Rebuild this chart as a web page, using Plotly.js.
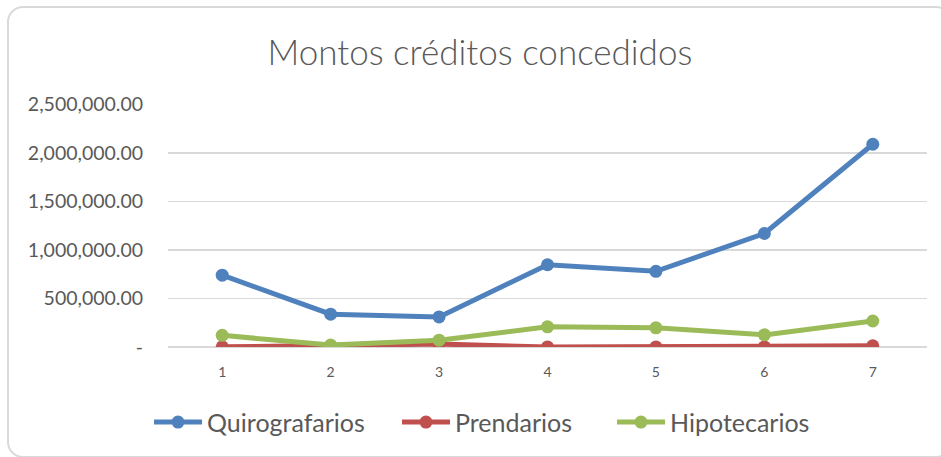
<!DOCTYPE html>
<html>
<head>
<meta charset="utf-8">
<script src="https://cdn.plot.ly/plotly-3.0.1.min.js"></script>
<style>
  html, body { margin: 0; padding: 0; background: #fff; overflow: hidden; }
  #frame { position: absolute; left: 7px; top: 6px; width: 945px; height: 452px;
           border: 2px solid #D9D9D9; border-radius: 16px; box-sizing: border-box; }
  #chart { position: absolute; left: 0; top: 0; width: 941px; height: 457px; }
</style>
</head>
<body>
<div id="frame"></div>
<div id="chart"></div>
<script>
const categories = [1, 2, 3, 4, 5, 6, 7];
const quirografarios = [740000, 338000, 310000, 848000, 780000, 1170000, 2090000];
const prendarios = [2000, 10000, 30000, 1000, 1000, 1000, 12000];
const hipotecarios = [120000, 20000, 70000, 208000, 198000, 125000, 268000];
const yTickVals = [0, 500000, 1000000, 1500000, 2000000, 2500000];
const yTickText = ['-', '500,000.00', '1,000,000.00', '1,500,000.00', '2,000,000.00', '2,500,000.00'];

const FONT = 'Lato, "Open Sans", sans-serif';
function series(name, y, color, legendId) {
  return {
    type: 'scatter', mode: 'lines+markers', name: name, legend: legendId,
    x: categories, y: y,
    line: { color: color, width: 5 },
    marker: { color: color, size: 13 }
  };
}
const data = [
  series('Quirografarios', quirografarios, '#4F81BD', 'legend'),
  series('Prendarios', prendarios, '#C0504D', 'legend2'),
  series('Hipotecarios', hipotecarios, '#9BBB59', 'legend3')
];
function leg(x) {
  return { orientation: 'h', x: x, xanchor: 'left', y: -0.31, yanchor: 'middle',
           bgcolor: 'rgba(0,0,0,0)',
           font: { family: FONT, size: 25, color: '#595959' }, itemwidth: 48 };
}
const layout = {
  width: 941, height: 457,
  margin: { l: 168, r: 14, t: 104, b: 108 },
  paper_bgcolor: 'rgba(0,0,0,0)', plot_bgcolor: 'rgba(0,0,0,0)',
  font: { family: FONT, color: '#595959' },
  title: { text: 'Montos créditos concedidos', x: 0.51, xanchor: 'center', y: 0.885, yanchor: 'middle',
           font: { family: FONT, size: 35, color: '#595959', weight: 300 } },
  showlegend: true,
  legend: leg(-0.025),
  legend2: leg(0.3017),
  legend3: leg(0.585),
  xaxis: {
    type: 'linear', range: [0.5, 7.5], tickvals: categories, ticktext: categories.map(String),
    showgrid: false, zeroline: false, showline: false,
    ticks: 'outside', ticklen: 12, tickcolor: 'rgba(0,0,0,0)',
    tickfont: { family: FONT, size: 14, color: '#595959' }
  },
  yaxis: {
    range: [0, 2505000], tickvals: yTickVals, ticktext: yTickText,
    showgrid: true, gridcolor: '#D9D9D9', gridwidth: 1.3,
    zeroline: true, zerolinecolor: '#D9D9D9', zerolinewidth: 1.3, showline: false,
    ticks: 'outside', ticklen: 20, tickcolor: 'rgba(0,0,0,0)',
    tickfont: { family: FONT, size: 19.5, color: '#595959' }
  }
};
Plotly.newPlot('chart', data, layout, { displayModeBar: false, staticPlot: true });
</script>
</body>
</html>
